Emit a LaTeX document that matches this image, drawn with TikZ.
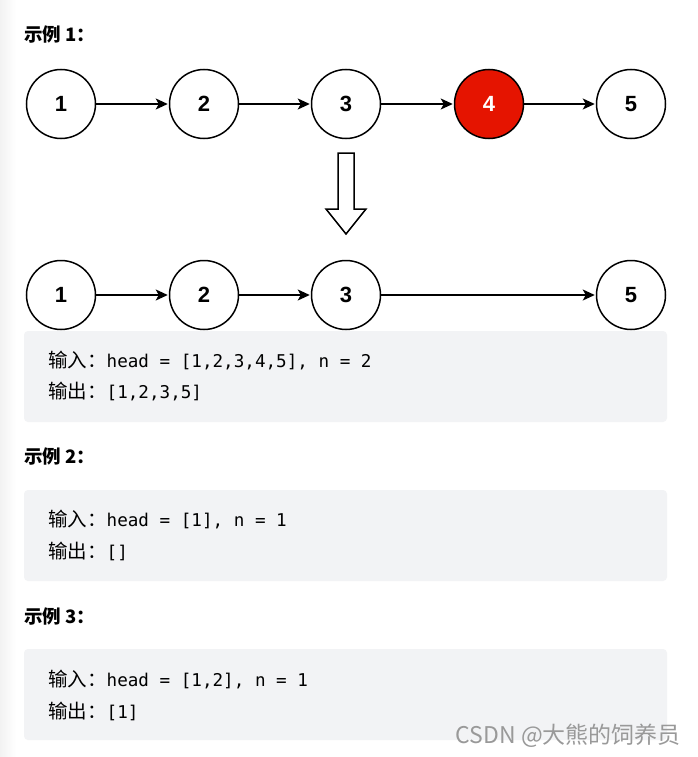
\documentclass[tikz,border=0pt]{standalone}
\usepackage{fontspec}
\newfontfamily\cjk{Noto Sans CJK SC}
\newfontfamily\numfont{Liberation Sans}
\newfontfamily\codefont{DejaVu Sans Mono}
\usetikzlibrary{arrows.meta}
\tikzset {>={Stealth[length=12pt,width=11pt,inset=3pt]}}
\definecolor{boxgray}{HTML}{F2F3F5}
\definecolor{nodered}{HTML}{E51400}
\tikzset{
  lnode/.style={circle,draw,line width=1.5pt,fill=white,minimum size=69pt,inner sep=0pt,
    font=\numfont\bfseries\fontsize{22}{22}\selectfont},
  link/.style={->,line width=1.5pt,shorten >=1pt},
  title/.style={anchor=west,inner sep=0pt,font=\cjk\bfseries\fontsize{18.5}{18.5}\selectfont},
  code/.style={anchor=west,inner sep=0pt,font=\codefont\fontsize{17.6}{17.6}\selectfont},
  codebox/.style={fill=boxgray,rounded corners=4pt}
}
\newcommand\zh[1]{{\cjk\fontsize{19.5}{19.5}\selectfont #1}}

\begin{document}
\begin{tikzpicture}[x=1pt,y=-1pt]
\useasboundingbox (0,0) rectangle (697,757);
\fill[white] (0,0) rectangle (697,757);
\shade[left color=black!5,right color=white] (0,0) rectangle (16,757);

% example 1
\node[title] (t1) at (24,34) {示例 1：};
\foreach \i/\x in {1/61,2/204,3/346,5/631}
  \node[lnode] (a\i) at (\x,104) {\i};
\node[lnode,fill=nodered,text=white] (a4) at (489,104) {4};
\draw[link] (a1) -- (a2);
\draw[link] (a2) -- (a3);
\draw[link] (a3) -- (a4);
\draw[link] (a4) -- (a5);

% hollow arrow
\draw[line width=1.5pt,line join=miter,fill=white] (338,153) -- (354,153) -- (354,209) -- (366,209)
  -- (346,234) -- (326,209) -- (338,209) -- cycle;

\foreach \i/\x in {1/61,2/204,3/346,5/631}
  \node[lnode] (b\i) at (\x,295) {\i};
\draw[link] (b1) -- (b2);
\draw[link] (b2) -- (b3);
\draw[link] (b3) -- (b5);

\fill[codebox] (24,331) rectangle (667,422);
\node[code] (in1) at (48,361) {\zh{输入：}head = [1,2,3,4,5], n = 2};
\node[code] (out1) at (48,392) {\zh{输出：}[1,2,3,5]};

% example 2
\node[title] (t2) at (24,456) {示例 2：};
\fill[codebox] (24,490) rectangle (667,581);
\node[code] (in2) at (48,520) {\zh{输入：}head = [1], n = 1};
\node[code] (out2) at (48,551) {\zh{输出：}[]};

% example 3
\node[title] (t3) at (24,616) {示例 3：};
\fill[codebox] (24,649) rectangle (667,740);
\node[code] (in3) at (48,680) {\zh{输入：}head = [1,2], n = 1};
\node[code] (out3) at (48,711) {\zh{输出：}[1]};

\node[anchor=east,inner sep=0pt,text=black!40,font=\cjk\fontsize{23}{23}\selectfont] (mark) at (681,736) {CSDN @大熊的饲养员};
\end{tikzpicture}
\end{document}
